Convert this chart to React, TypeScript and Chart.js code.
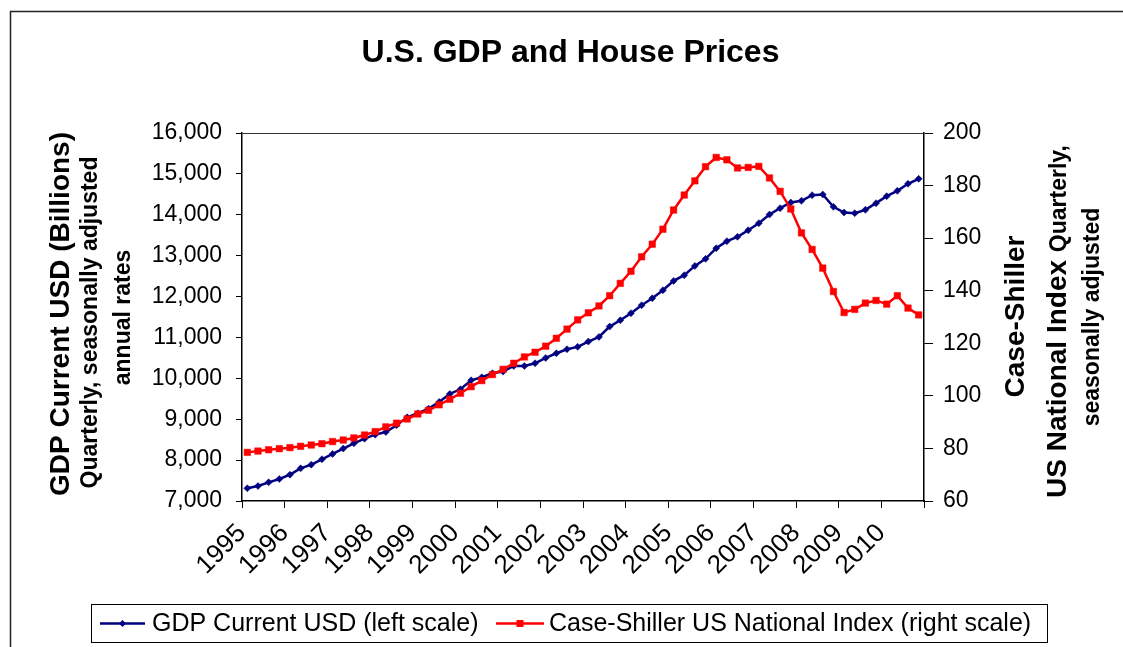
import React, { useEffect, useRef } from 'react';
import { Chart, registerables } from 'chart.js';

Chart.register(...registerables);

// ---------- data ----------
const years = [1995, 1996, 1997, 1998, 1999, 2000, 2001, 2002, 2003, 2004, 2005, 2006, 2007, 2008, 2009, 2010];
const quarters = ['Q1', 'Q2', 'Q3', 'Q4'];

// GDP current USD (billions), quarterly, SAAR
const gdpValues = [
  7310, 7367, 7457, 7538, 7644, 7799, 7889, 8020, 8150, 8281, 8411, 8525, 8623, 8688, 8852, 9047,
  9145, 9259, 9422, 9618, 9732, 9953, 10026, 10124, 10165, 10303, 10303, 10369, 10499, 10613, 10711, 10770,
  10899, 11013, 11266, 11421, 11592, 11788, 11959, 12155, 12383, 12522, 12750, 12922, 13183, 13354, 13460, 13623,
  13794, 14006, 14162, 14300, 14341, 14480, 14496, 14194, 14055, 14039, 14121, 14284, 14455, 14586, 14757, 14879,
];

// Case-Shiller US National Index, quarterly, SA
const hpiValues = [
  78.5, 79.0, 79.5, 79.9, 80.3, 80.8, 81.3, 81.8, 82.6, 83.2, 84.0, 85.1, 86.4, 88.2, 89.6, 91.2,
  93.1, 94.5, 96.6, 98.7, 101.0, 103.5, 105.8, 108.1, 110.1, 112.4, 114.8, 116.6, 118.9, 121.9, 125.4, 128.9,
  131.6, 134.2, 138.1, 142.8, 147.4, 152.9, 157.7, 163.4, 170.7, 176.4, 181.8, 187.2, 190.7, 189.8, 186.7, 186.9,
  187.3, 182.9, 177.8, 171.1, 162.0, 155.7, 148.6, 139.7, 131.7, 132.9, 135.3, 136.3, 134.9, 138.1, 133.4, 130.8,
];

const yearTickLabels = ['1995', '1996', '1997', '1998', '1999', '2000', '2001', '2002', '2003', '2004', '2005', '2006', '2007', '2008', '2009', '2010'];

const TITLE = 'U.S. GDP and House Prices';
const GDP_LABEL = 'GDP Current USD (left scale)';
const HPI_LABEL = 'Case-Shiller US National Index (right scale)';

const FONT = '"Liberation Sans", Arial, Helvetica, sans-serif';
const BLUE = '#000080';
const RED = '#FF0000';

// quarter positions on a continuous year axis (mid-quarter)
const periods = years.flatMap((y) => quarters.map((q, i) => ({ label: `${y} ${q}`, x: y + (i + 0.5) / 4 })));
const gdpPoints = periods.map((p, i) => ({ x: p.x, y: gdpValues[i] }));
const hpiPoints = periods.map((p, i) => ({ x: p.x, y: hpiValues[i] }));

function vText(ctx: CanvasRenderingContext2D, text: string, x: number, y: number, font: string, align: CanvasTextAlign) {
  ctx.save();
  ctx.translate(x, y);
  ctx.rotate(-Math.PI / 2);
  ctx.font = font;
  ctx.textAlign = align;
  ctx.textBaseline = 'alphabetic';
  ctx.fillStyle = '#000';
  ctx.fillText(text, 0, 0);
  ctx.restore();
}

const decorPlugin = {
  id: 'decor',
  afterDraw(chart: any) {
    const ctx: CanvasRenderingContext2D = chart.ctx;
    const { left, right, top } = chart.chartArea;
    ctx.save();

    // outer frame
    ctx.strokeStyle = '#222';
    ctx.lineWidth = 1.5;
    ctx.beginPath();
    ctx.moveTo(10.5, 700);
    ctx.lineTo(10.5, 11.5);
    ctx.lineTo(1200, 11.5);
    ctx.stroke();

    // plot area top border
    ctx.strokeStyle = '#333';
    ctx.lineWidth = 1;
    ctx.beginPath();
    ctx.moveTo(left, top + 0.5);
    ctx.lineTo(right, top + 0.5);
    ctx.stroke();

    // title
    ctx.fillStyle = '#000';
    ctx.font = `bold 32px ${FONT}`;
    ctx.textAlign = 'center';
    ctx.textBaseline = 'alphabetic';
    ctx.fillText(TITLE, 570.5, 62);

    // left axis titles
    vText(ctx, 'GDP Current USD (Billions)', 68.5, 314, `bold 28px ${FONT}`, 'center');
    vText(ctx, 'Quarterly, seasonally adjusted', 96.5, 322.5, `bold 23px ${FONT}`, 'center');
    vText(ctx, 'annual rates', 130, 317.5, `bold 23px ${FONT}`, 'center');

    // right axis titles
    vText(ctx, 'Case-Shiller', 1024, 316.5, `bold 28px ${FONT}`, 'center');
    ctx.save();
    ctx.translate(1066, 498);
    ctx.rotate(-Math.PI / 2);
    ctx.textAlign = 'left';
    ctx.textBaseline = 'alphabetic';
    ctx.fillStyle = '#000';
    ctx.font = `bold 28px ${FONT}`;
    const big = 'US National Index';
    ctx.fillText(big, 0, 0);
    const w = ctx.measureText(big + ' ').width;
    ctx.font = `bold 23px ${FONT}`;
    ctx.fillText('Quarterly,', w, 0);
    ctx.restore();
    vText(ctx, 'seasonally adjusted', 1098.5, 317, `bold 23px ${FONT}`, 'center');

    // legend
    ctx.strokeStyle = '#000';
    ctx.lineWidth = 1;
    ctx.strokeRect(91.5, 604.5, 956, 38);
    const ly = 623.5;
    // GDP sample
    ctx.strokeStyle = BLUE;
    ctx.lineWidth = 2.5;
    ctx.beginPath();
    ctx.moveTo(100, ly);
    ctx.lineTo(145, ly);
    ctx.stroke();
    ctx.fillStyle = BLUE;
    ctx.beginPath();
    ctx.moveTo(122.5, ly - 3.5);
    ctx.lineTo(126, ly);
    ctx.lineTo(122.5, ly + 3.5);
    ctx.lineTo(119, ly);
    ctx.closePath();
    ctx.fill();
    // HPI sample
    ctx.strokeStyle = RED;
    ctx.beginPath();
    ctx.moveTo(496, ly);
    ctx.lineTo(544, ly);
    ctx.stroke();
    ctx.fillStyle = RED;
    ctx.fillRect(516.5, ly - 3.5, 7, 7);
    // texts
    ctx.fillStyle = '#000';
    ctx.font = `25px ${FONT}`;
    ctx.textAlign = 'left';
    ctx.textBaseline = 'middle';
    ctx.fillText(GDP_LABEL, 152, ly + 1);
    ctx.fillText(HPI_LABEL, 549, ly + 1);

    ctx.restore();
  },
};

export default function App() {
  const canvasRef = useRef<HTMLCanvasElement | null>(null);

  useEffect(() => {
    const canvas = canvasRef.current;
    if (!canvas) return;
    const chart = new Chart(canvas, {
      type: 'line',
      data: {
        datasets: [
          {
            label: GDP_LABEL,
            data: gdpPoints,
            yAxisID: 'y',
            borderColor: BLUE,
            backgroundColor: BLUE,
            borderWidth: 2.5,
            pointStyle: 'rectRot',
            pointRadius: 3.5,
            pointBorderWidth: 0.5,
            pointBorderColor: BLUE,
            pointBackgroundColor: BLUE,
            tension: 0,
            order: 2,
          },
          {
            label: HPI_LABEL,
            data: hpiPoints,
            yAxisID: 'y1',
            borderColor: RED,
            backgroundColor: RED,
            borderWidth: 2.5,
            pointStyle: 'rect',
            pointRadius: 4.6,
            pointBorderWidth: 0.5,
            pointBorderColor: RED,
            pointBackgroundColor: RED,
            tension: 0,
            order: 1,
          },
        ],
      },
      options: {
        animation: false,
        responsive: false,
        devicePixelRatio: 1,
        layout: { padding: { top: 133, left: 15, right: 0, bottom: 0 } },
        plugins: {
          legend: { display: false },
          title: { display: false },
          tooltip: { enabled: false },
        },
        scales: {
          x: {
            type: 'linear',
            min: years[0],
            max: years[years.length - 1] + 1,
            afterBuildTicks: (scale: any) => {
              scale.ticks = [...years, years[years.length - 1] + 1].map((v) => ({ value: v }));
            },
            ticks: {
              autoSkip: false,
              maxRotation: 45,
              minRotation: 45,
              color: '#000',
              padding: 10,
              font: { family: FONT, size: 26 },
              callback: (v: any) => {
                const i = years.indexOf(Number(v));
                return i >= 0 ? yearTickLabels[i] : '';
              },
            },
            grid: { display: true, drawOnChartArea: false, drawTicks: true, tickLength: 7, color: '#000', lineWidth: 1 },
            border: { display: true, color: '#000', width: 1.5 },
            afterFit: (scale: any) => {
              scale.height = 146;
            },
          },
          y: {
            type: 'linear',
            position: 'left',
            min: 7000,
            max: 16000,
            ticks: {
              stepSize: 1000,
              color: '#000',
              padding: 14,
              font: { family: FONT, size: 23 },
              callback: (v: any) => Number(v).toLocaleString('en-US'),
            },
            grid: { display: true, drawOnChartArea: false, drawTicks: true, tickLength: 6, color: '#000', lineWidth: 1 },
            border: { display: true, color: '#000', width: 1.5 },
            afterFit: (scale: any) => {
              scale.width = 227;
            },
          },
          y1: {
            type: 'linear',
            position: 'right',
            min: 60,
            max: 200,
            ticks: {
              stepSize: 20,
              color: '#000',
              padding: 10,
              font: { family: FONT, size: 23 },
            },
            grid: { display: true, drawOnChartArea: false, drawTicks: true, tickLength: 9, color: '#000', lineWidth: 1 },
            border: { display: true, color: '#000', width: 1.5 },
            afterFit: (scale: any) => {
              scale.width = 199;
            },
          },
        },
      },
      plugins: [decorPlugin],
    });
    return () => chart.destroy();
  }, []);

  return (
    <div style={{ position: 'fixed', left: 0, top: 0, width: 1123, height: 647, background: '#fff', overflow: 'hidden' }}>
      <canvas ref={canvasRef} width={1123} height={647} style={{ display: 'block' }} />
    </div>
  );
}
